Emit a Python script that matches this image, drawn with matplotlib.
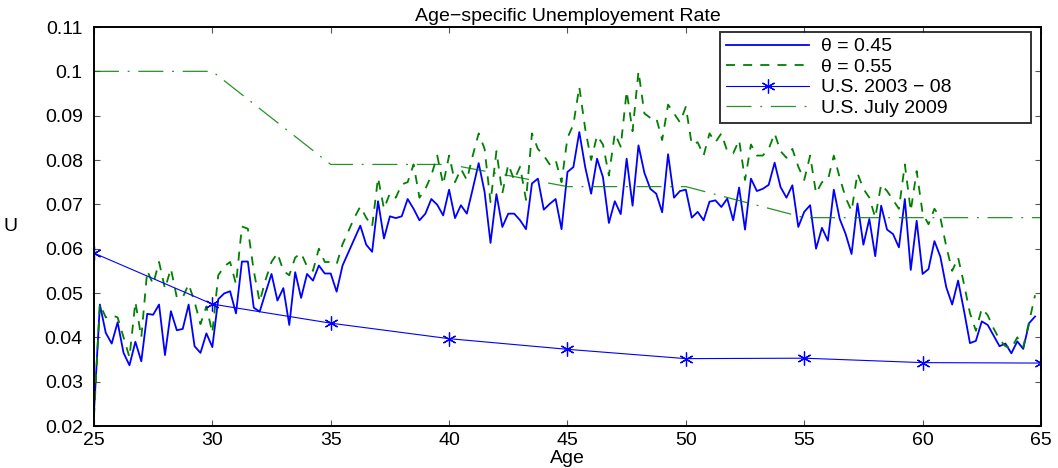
import numpy as np
import matplotlib
matplotlib.use('Agg')
import matplotlib.pyplot as plt
from matplotlib.ticker import FuncFormatter

plt.rcParams['font.family'] = ['Liberation Sans', 'DejaVu Sans']
plt.rcParams['font.size'] = 14

# quarterly ages 25 .. 64.75
ages = np.arange(25, 65, 0.25)

u_045 = [
    0.023, 0.0474, 0.041, 0.0386, 0.0434, 0.0365, 0.0337, 0.039,
    0.0346, 0.0453, 0.0451, 0.0474, 0.036, 0.0459, 0.0416, 0.0419,
    0.0474, 0.038, 0.0365, 0.0409, 0.0378, 0.0486, 0.0499, 0.0504,
    0.0454, 0.0571, 0.0571, 0.0467, 0.0458, 0.0501, 0.0543, 0.0483,
    0.0511, 0.0428, 0.0547, 0.0489, 0.0543, 0.0528, 0.0562, 0.0544,
    0.0544, 0.0503, 0.0562, 0.0592, 0.0622, 0.0652, 0.0609, 0.0593,
    0.0707, 0.0623, 0.0673, 0.0669, 0.0673, 0.0712, 0.0690, 0.0664,
    0.0679, 0.0712, 0.0699, 0.0675, 0.0733, 0.0669, 0.0698, 0.0679,
    0.0735, 0.0793, 0.0728, 0.0613, 0.0723, 0.0649, 0.0679, 0.0679,
    0.0664, 0.0644, 0.0747, 0.0758, 0.0688, 0.0701, 0.0712, 0.0644,
    0.0773, 0.0784, 0.0863, 0.0784, 0.0724, 0.0803, 0.0761, 0.0658,
    0.0707, 0.0678, 0.0803, 0.0697, 0.0833, 0.0771, 0.0735, 0.0724,
    0.0682, 0.0813, 0.0715, 0.0730, 0.0733, 0.0670, 0.0683, 0.0664,
    0.0706, 0.0709, 0.0694, 0.0713, 0.0664, 0.0738, 0.0643, 0.0758,
    0.0730, 0.0735, 0.0744, 0.0794, 0.0739, 0.0715, 0.0743, 0.0649,
    0.0683, 0.0698, 0.0600, 0.0647, 0.0618, 0.0733, 0.0667, 0.0633,
    0.0588, 0.0702, 0.0609, 0.0667, 0.0583, 0.0697, 0.0643, 0.0633,
    0.0603, 0.0712, 0.0552, 0.0663, 0.0543, 0.0554, 0.0617, 0.0582,
    0.0513, 0.0474, 0.0528, 0.0460, 0.0387, 0.0392, 0.0436, 0.0428,
    0.0404, 0.0380, 0.0386, 0.0364, 0.0391, 0.0374, 0.0432, 0.0447,
]

u_055 = [
    0.022, 0.0475, 0.0445, 0.045, 0.0445, 0.040, 0.0355, 0.048,
    0.040, 0.055, 0.052, 0.057, 0.051, 0.0555, 0.049, 0.049,
    0.052, 0.048, 0.043, 0.047, 0.041, 0.054, 0.056, 0.057,
    0.052, 0.065, 0.0645, 0.055, 0.048, 0.053, 0.057, 0.059,
    0.055, 0.054, 0.058, 0.059, 0.056, 0.055, 0.060, 0.057,
    0.057, 0.0565, 0.061, 0.064, 0.067, 0.0695, 0.067, 0.065,
    0.076, 0.069, 0.0725, 0.0715, 0.0745, 0.075, 0.079, 0.0715,
    0.0735, 0.0765, 0.081, 0.0745, 0.081, 0.075, 0.078, 0.0755,
    0.081, 0.086, 0.0825, 0.0705, 0.082, 0.0725, 0.079, 0.0755,
    0.0785, 0.071, 0.086, 0.0825, 0.081, 0.079, 0.080, 0.075,
    0.085, 0.088, 0.0965, 0.087, 0.080, 0.0855, 0.0835, 0.0765,
    0.086, 0.083, 0.0955, 0.0865, 0.100, 0.0905, 0.0895, 0.0895,
    0.0845, 0.0925, 0.0905, 0.0885, 0.092, 0.0835, 0.084, 0.081,
    0.086, 0.084, 0.086, 0.082, 0.0815, 0.0845, 0.0755, 0.0835,
    0.081, 0.081, 0.0825, 0.086, 0.082, 0.0805, 0.0825, 0.0785,
    0.0755, 0.081, 0.0725, 0.075, 0.0755, 0.081, 0.076, 0.0715,
    0.0685, 0.077, 0.0735, 0.0715, 0.067, 0.0745, 0.073, 0.071,
    0.069, 0.079, 0.0685, 0.0775, 0.068, 0.0655, 0.069, 0.067,
    0.0605, 0.055, 0.058, 0.052, 0.0455, 0.0415, 0.0465, 0.045,
    0.042, 0.0395, 0.038, 0.0375, 0.040, 0.0378, 0.0435, 0.0495,
]

us_ages = [25, 30, 35, 40, 45, 50, 55, 60, 65]
us_0308 = [0.059, 0.0475, 0.0432, 0.0397, 0.0373, 0.0352, 0.0353, 0.0343, 0.0342]
us_2009 = [0.100, 0.100, 0.079, 0.079, 0.074, 0.074, 0.067, 0.067, 0.067]

labels = ['\u03b8 = 0.45', '\u03b8 = 0.55', 'U.S. 2003 \u2212 08', 'U.S. July 2009']

blue = (0, 0, 1)
green = (0, 0.5, 0)

fig = plt.figure(figsize=(10.58, 4.68), dpi=100)
ax = fig.add_axes([0.0888, 0.0897, 0.8951, 0.8526])

ax.plot(ages, u_045, color=blue, lw=1.3, label=labels[0])
ax.plot(ages, u_055, color=green, lw=1.3, dashes=(5, 4.5), label=labels[1])
ax.plot(us_ages, us_0308, color=blue, lw=0.8, marker=(6, 2, 0),
        markersize=10, markeredgewidth=0.9, label=labels[2])
ax.plot(us_ages, us_2009, color=green, lw=0.9, dashes=(20, 7, 1.5, 7),
        alpha=0.85, label=labels[3])

ax.set_xlim(25, 65)
ax.set_ylim(0.02, 0.11)
ax.set_xticks(np.arange(25, 66, 5))
ax.set_yticks(np.arange(0.02, 0.1101, 0.01))
ax.yaxis.set_major_formatter(FuncFormatter(lambda v, p: '%g' % round(v, 3)))
ax.tick_params(direction='in', top=True, right=True, length=4, width=0.8,
               color='#555555', labelsize=14)
ax.tick_params(axis='y', pad=8)
ax.tick_params(axis='x', pad=4)
for s in ax.spines.values():
    s.set_linewidth(1.4)

ax.set_title('Age\u2212specific Unemployement Rate', fontsize=14, pad=4)
ax.set_xlabel('Age', fontsize=14, labelpad=1)
ax.set_ylabel('U', fontsize=14, rotation=0, ha='center', va='center')
ax.yaxis.set_label_coords(-0.088, 0.5)

leg = ax.legend(loc='upper left', bbox_to_anchor=(0.661, 0.7544, 0.3284, 0.2331),
                mode='expand', fontsize=14, frameon=True, fancybox=False,
                handlelength=4.3, handletextpad=0.6, labelspacing=0.15,
                borderpad=0.3, borderaxespad=0)
leg.get_frame().set_edgecolor('black')
leg.get_frame().set_linewidth(1.4)

fig.savefig('out.png', dpi=100)
